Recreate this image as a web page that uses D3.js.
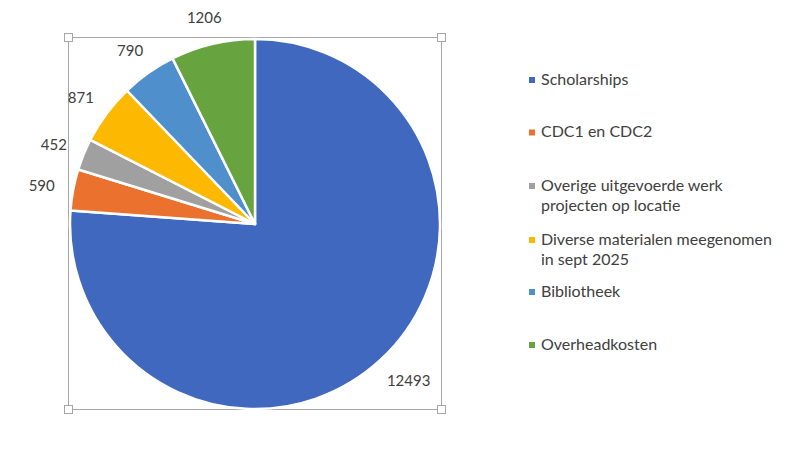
<!DOCTYPE html>
<html>
<head>
<meta charset="utf-8">
<script src="https://cdn.jsdelivr.net/npm/d3@7"></script>
<style>
  body { margin: 0; background: #fff; }
  text { font-family: Lato, "Open Sans", sans-serif; fill: #404040; }
</style>
</head>
<body>
<div id="chart"></div>
<script>
var categories = ["Scholarships", "CDC1 en CDC2", "Overige uitgevoerde werk projecten op locatie",
                  "Diverse materialen meegenomen in sept 2025", "Bibliotheek", "Overheadkosten"]
var legendLines = [["Scholarships"], ["CDC1 en CDC2"], ["Overige uitgevoerde werk", "projecten op locatie"],
                   ["Diverse materialen meegenomen", "in sept 2025"], ["Bibliotheek"], ["Overheadkosten"]]
var values = [12493, 590, 452, 871, 790, 1206]
var colors = ["#4068be", "#eb722e", "#a0a0a0", "#fdb902", "#4f8fcc", "#67a33f"]

var width = 790, height = 452
var cx = 255, cy = 224, r = 185

var svg = d3.select("#chart").append("svg")
            .attr("width", width)
            .attr("height", height)

var data = categories.map(function (c, i) {
    return { key: c, value: values[i], color: colors[i], lines: legendLines[i] }
})

var pie = d3.pie().sort(null).value(function (d) { return d.value })
var arc = d3.arc().innerRadius(0).outerRadius(r)
var arcs = pie(data)

// selection frame round the plot
svg.append("rect")
   .attr("x", 68.5).attr("y", 37.5)
   .attr("width", 373).attr("height", 372)
   .attr("fill", "none").attr("stroke", "#a6a6a6").attr("stroke-width", 1)

var g = svg.append("g").attr("transform", "translate(" + cx + "," + cy + ")")

g.selectAll("path")
 .data(arcs)
 .enter().append("path")
 .attr("d", arc)
 .attr("fill", function (d) { return d.data.color })
 .attr("stroke", "#fff")
 .attr("stroke-width", 2.5)
 .attr("stroke-linejoin", "round")

// value labels, outside end
var labels = g.selectAll(".lbl")
              .data(arcs)
              .enter().append("text")
              .attr("class", "lbl")
              .attr("font-size", 15)
              .attr("text-anchor", "middle")
              .attr("dominant-baseline", "central")
              .text(function (d) { return d.data.value })

labels.attr("transform", function (d) {
    var a = (d.startAngle + d.endAngle) / 2
    var dx = Math.sin(a), dy = -Math.cos(a)
    var w = this.getComputedTextLength(), h = 15
    var x = dx * (r + 19) + dx * w / 2
    var y = dy * (r + 20) + dy * h / 2
    return "translate(" + x + "," + y + ")"
})

// handles on the frame corners
var handles = [[68.5, 37.5], [441.5, 37.5], [68.5, 409.5], [441.5, 409.5]]
svg.selectAll(".handle")
   .data(handles)
   .enter().append("rect")
   .attr("class", "handle")
   .attr("x", function (d) { return d[0] - 4 })
   .attr("y", function (d) { return d[1] - 4 })
   .attr("width", 8).attr("height", 8)
   .attr("fill", "#fff").attr("stroke", "#a6a6a6")

// legend
var legendY = [80, 132.5, 186, 240, 292, 345]
var legend = svg.selectAll(".legend")
                .data(data)
                .enter().append("g")
                .attr("class", "legend")
                .attr("transform", function (d, i) {
                    return "translate(529," + legendY[i] + ")"
                })

legend.append("rect")
      .attr("x", 0).attr("y", -3)
      .attr("width", 6).attr("height", 6)
      .style("fill", function (d) { return d.color })

legend.append("text")
      .attr("x", 12)
      .attr("y", 4.5)
      .attr("font-size", 16)
      .each(function (d) {
          var t = d3.select(this)
          d.lines.forEach(function (line, j) {
              t.append("tspan").attr("x", 12).attr("dy", j === 0 ? 0 : 20).text(line)
          })
      })
</script>
</body>
</html>
